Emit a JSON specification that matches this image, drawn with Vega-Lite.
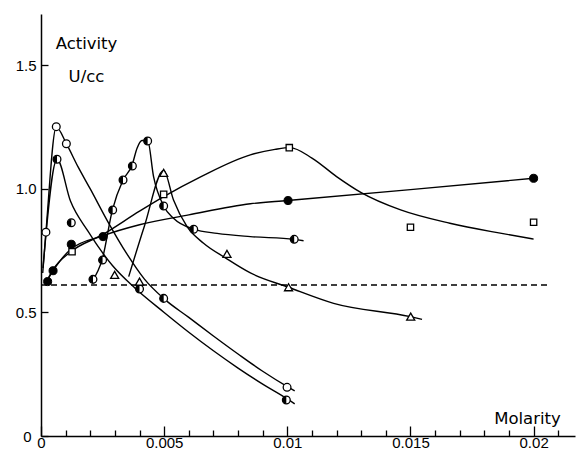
{
  "$schema": "https://vega.github.io/schema/vega-lite/v6.json",
  "width": 534,
  "height": 422,
  "autosize": {"type": "none"},
  "padding": {"left": 41, "top": 14, "right": 4, "bottom": 23},
  "background": "white",
  "config": {"view": {"stroke": null}},
  "datasets": {
    "curves": [
      {"curve": "open", "x": 0.00007, "y": 0.66},
      {"curve": "open", "x": 0.0002, "y": 0.825},
      {"curve": "open", "x": 0.00062, "y": 1.25},
      {"curve": "open", "x": 0.00103, "y": 1.183},
      {"curve": "open", "x": 0.0015, "y": 1.09},
      {"curve": "open", "x": 0.002, "y": 1.0},
      {"curve": "open", "x": 0.0027, "y": 0.87},
      {"curve": "open", "x": 0.0035, "y": 0.735},
      {"curve": "open", "x": 0.0042, "y": 0.635},
      {"curve": "open", "x": 0.005, "y": 0.555},
      {"curve": "open", "x": 0.006, "y": 0.48},
      {"curve": "open", "x": 0.007, "y": 0.405},
      {"curve": "open", "x": 0.008, "y": 0.332},
      {"curve": "open", "x": 0.009, "y": 0.262},
      {"curve": "open", "x": 0.01, "y": 0.2},
      {"curve": "open", "x": 0.0103, "y": 0.183},
      {"curve": "dark", "x": 0.00008, "y": 0.68},
      {"curve": "dark", "x": 0.00065, "y": 1.12},
      {"curve": "dark", "x": 0.0012, "y": 0.95},
      {"curve": "dark", "x": 0.0019, "y": 0.83},
      {"curve": "dark", "x": 0.0029, "y": 0.69},
      {"curve": "dark", "x": 0.0038, "y": 0.6},
      {"curve": "dark", "x": 0.005, "y": 0.5},
      {"curve": "dark", "x": 0.006, "y": 0.42},
      {"curve": "dark", "x": 0.007, "y": 0.345},
      {"curve": "dark", "x": 0.008, "y": 0.275},
      {"curve": "dark", "x": 0.009, "y": 0.21},
      {"curve": "dark", "x": 0.01, "y": 0.15},
      {"curve": "dark", "x": 0.0103, "y": 0.13},
      {"curve": "half", "x": 0.00207, "y": 0.625},
      {"curve": "half", "x": 0.0025, "y": 0.72},
      {"curve": "half", "x": 0.0029, "y": 0.915},
      {"curve": "half", "x": 0.00333, "y": 1.036},
      {"curve": "half", "x": 0.0037, "y": 1.097},
      {"curve": "half", "x": 0.0039, "y": 1.165},
      {"curve": "half", "x": 0.0041, "y": 1.196},
      {"curve": "half", "x": 0.00433, "y": 1.196},
      {"curve": "half", "x": 0.00457, "y": 1.05},
      {"curve": "half", "x": 0.00498, "y": 0.931},
      {"curve": "half", "x": 0.00538, "y": 0.881},
      {"curve": "half", "x": 0.0062, "y": 0.837},
      {"curve": "half", "x": 0.00715, "y": 0.82},
      {"curve": "half", "x": 0.0085, "y": 0.807},
      {"curve": "half", "x": 0.01028, "y": 0.796},
      {"curve": "half", "x": 0.01066, "y": 0.79},
      {"curve": "tri", "x": 0.00356, "y": 0.645},
      {"curve": "tri", "x": 0.0042, "y": 0.85},
      {"curve": "tri", "x": 0.00498, "y": 1.075},
      {"curve": "tri", "x": 0.00538, "y": 0.955},
      {"curve": "tri", "x": 0.00593, "y": 0.847},
      {"curve": "tri", "x": 0.0066, "y": 0.78},
      {"curve": "tri", "x": 0.0075, "y": 0.72},
      {"curve": "tri", "x": 0.0085, "y": 0.66},
      {"curve": "tri", "x": 0.01005, "y": 0.602},
      {"curve": "tri", "x": 0.01188, "y": 0.537},
      {"curve": "tri", "x": 0.015, "y": 0.483},
      {"curve": "tri", "x": 0.01547, "y": 0.472},
      {"curve": "square", "x": 0.0002, "y": 0.62},
      {"curve": "square", "x": 0.0005, "y": 0.675},
      {"curve": "square", "x": 0.0012, "y": 0.745},
      {"curve": "square", "x": 0.0025, "y": 0.815},
      {"curve": "square", "x": 0.004, "y": 0.91},
      {"curve": "square", "x": 0.005, "y": 0.97},
      {"curve": "square", "x": 0.0065, "y": 1.05},
      {"curve": "square", "x": 0.0085, "y": 1.138},
      {"curve": "square", "x": 0.0095, "y": 1.16},
      {"curve": "square", "x": 0.0101, "y": 1.167},
      {"curve": "square", "x": 0.011, "y": 1.125},
      {"curve": "square", "x": 0.012, "y": 1.05},
      {"curve": "square", "x": 0.013, "y": 0.985},
      {"curve": "square", "x": 0.0146, "y": 0.915},
      {"curve": "square", "x": 0.0166, "y": 0.861},
      {"curve": "square", "x": 0.0187, "y": 0.82},
      {"curve": "square", "x": 0.02, "y": 0.797},
      {"curve": "filled", "x": 0.0002, "y": 0.62},
      {"curve": "filled", "x": 0.0005, "y": 0.67},
      {"curve": "filled", "x": 0.0012, "y": 0.755},
      {"curve": "filled", "x": 0.0025, "y": 0.81},
      {"curve": "filled", "x": 0.004, "y": 0.855},
      {"curve": "filled", "x": 0.006, "y": 0.895},
      {"curve": "filled", "x": 0.0085, "y": 0.94},
      {"curve": "filled", "x": 0.01, "y": 0.953},
      {"curve": "filled", "x": 0.015, "y": 0.997},
      {"curve": "filled", "x": 0.02, "y": 1.043}
    ],
    "baseline": [
      {"x": 0, "y": 0.611},
      {"x": 0.02055, "y": 0.611}
    ],
    "points": [
      {"marker": "open", "x": 0.0002, "y": 0.825},
      {"marker": "open", "x": 0.00062, "y": 1.252},
      {"marker": "open", "x": 0.00103, "y": 1.183},
      {"marker": "open", "x": 0.00999, "y": 0.197},
      {"marker": "half", "x": 0.00065, "y": 1.12},
      {"marker": "half", "x": 0.00123, "y": 0.863},
      {"marker": "half", "x": 0.004, "y": 0.595},
      {"marker": "half", "x": 0.00498, "y": 0.557},
      {"marker": "half", "x": 0.00996, "y": 0.146},
      {"marker": "half", "x": 0.00211, "y": 0.634},
      {"marker": "half", "x": 0.0025, "y": 0.712},
      {"marker": "half", "x": 0.00291, "y": 0.915},
      {"marker": "half", "x": 0.00333, "y": 1.036},
      {"marker": "half", "x": 0.00371, "y": 1.093},
      {"marker": "half", "x": 0.00433, "y": 1.194},
      {"marker": "half", "x": 0.00498, "y": 0.931},
      {"marker": "half", "x": 0.0062, "y": 0.837},
      {"marker": "half", "x": 0.01028, "y": 0.796},
      {"marker": "tri", "x": 0.00299, "y": 0.652},
      {"marker": "tri", "x": 0.004, "y": 0.625},
      {"marker": "tri", "x": 0.00498, "y": 1.065},
      {"marker": "tri", "x": 0.00755, "y": 0.737},
      {"marker": "tri", "x": 0.01005, "y": 0.602},
      {"marker": "tri", "x": 0.01501, "y": 0.483},
      {"marker": "square", "x": 0.00126, "y": 0.746},
      {"marker": "square", "x": 0.00498, "y": 0.978},
      {"marker": "square", "x": 0.01008, "y": 1.167},
      {"marker": "square", "x": 0.015, "y": 0.845},
      {"marker": "square", "x": 0.02, "y": 0.865},
      {"marker": "filled", "x": 0.00027, "y": 0.625},
      {"marker": "filled", "x": 0.00049, "y": 0.669},
      {"marker": "filled", "x": 0.00123, "y": 0.776},
      {"marker": "filled", "x": 0.00252, "y": 0.807},
      {"marker": "filled", "x": 0.01003, "y": 0.953},
      {"marker": "filled", "x": 0.02, "y": 1.043}
    ]
  },
  "encoding": {
    "x": {
      "field": "x",
      "type": "quantitative",
      "scale": {"domain": [0, 0.02168], "nice": false, "zero": false},
      "axis": {
        "values": [0, 0.001, 0.002, 0.003, 0.004, 0.005, 0.006, 0.007, 0.008, 0.009, 0.01, 0.011, 0.012, 0.013, 0.014, 0.015, 0.016, 0.017, 0.018, 0.019, 0.02, 0.021],
        "title": "Molarity",
        "titleFont": "DejaVu Sans",
        "titleFontSize": 16.5,
        "titleFontWeight": "normal",
        "titleColor": "black",
        "titleAngle": 0,
        "titleAlign": "center",
        "titleBaseline": "alphabetic",
        "titleX": 486,
        "titleY": -13,
        "domainColor": "black",
        "domainWidth": 1.5,
        "tickColor": "black",
        "tickWidth": 1.3,
        "tickSize": {"condition": {"test": "round(datum.value*1000) % 5 === 0", "value": -10}, "value": -6},
        "labelExpr": "round(datum.value*1000) % 5 === 0 ? (datum.value === 0 ? '0' : format(datum.value, '~g')) : ''",
        "labelFont": "Liberation Sans",
        "labelFontSize": 15,
        "labelColor": "black",
        "labelBaseline": "top",
        "labelPadding": 9,
        "labelFlush": false,
        "labelOverlap": false,
        "grid": false
      }
    },
    "y": {
      "field": "y",
      "type": "quantitative",
      "scale": {"domain": [0, 1.708], "nice": false, "zero": false},
      "axis": {
        "values": [0, 0.5, 1, 1.5],
        "title": ["Activity", "U/cc"],
        "titleFont": "DejaVu Sans",
        "titleFontSize": 16.5,
        "titleFontWeight": "normal",
        "titleColor": "black",
        "titleAngle": 0,
        "titleAlign": "center",
        "titleBaseline": "alphabetic",
        "titleX": 45,
        "titleY": 34,
        "titleLineHeight": 33,
        "domainColor": "black",
        "domainWidth": 1.5,
        "tickColor": "black",
        "tickWidth": 1.3,
        "tickSize": -7,
        "labelExpr": "datum.value === 0 ? '0' : format(datum.value, '.1f')",
        "labelFont": "Liberation Sans",
        "labelFontSize": 15,
        "labelColor": "black",
        "labelPadding": {"condition": {"test": "datum.value === 0", "value": 17}, "value": 12},
        "labelFlush": false,
        "labelOverlap": false,
        "grid": false
      }
    }
  },
  "layer": [
    {
      "data": {"name": "baseline"},
      "mark": {"type": "line", "color": "black", "strokeWidth": 1.5, "strokeDash": [6, 4]}
    },
    {
      "data": {"name": "curves"},
      "mark": {"type": "line", "color": "black", "strokeWidth": 1.4, "interpolate": "monotone"},
      "encoding": {"detail": {"field": "curve"}}
    },
    {
      "data": {"name": "points"},
      "transform": [{"filter": "datum.marker === 'open' || datum.marker === 'half'"}],
      "mark": {"type": "point", "shape": "circle", "filled": true, "fill": "white", "stroke": "black", "strokeWidth": 1.3, "size": 60, "opacity": 1}
    },
    {
      "data": {"name": "points"},
      "transform": [{"filter": "datum.marker === 'half'"}],
      "mark": {"type": "point", "shape": "M0,-1A1,1,0,0,0,0,1Z", "filled": true, "fill": "black", "strokeWidth": 0, "size": 60, "opacity": 1}
    },
    {
      "data": {"name": "points"},
      "transform": [{"filter": "datum.marker === 'filled'"}],
      "mark": {"type": "point", "shape": "circle", "filled": true, "fill": "black", "stroke": "black", "strokeWidth": 1, "size": 65, "opacity": 1}
    },
    {
      "data": {"name": "points"},
      "transform": [{"filter": "datum.marker === 'tri'"}],
      "mark": {"type": "point", "shape": "triangle-up", "filled": true, "fill": "white", "stroke": "black", "strokeWidth": 1.3, "size": 65, "opacity": 1}
    },
    {
      "data": {"name": "points"},
      "transform": [{"filter": "datum.marker === 'square'"}],
      "mark": {"type": "point", "shape": "square", "filled": true, "fill": "white", "stroke": "black", "strokeWidth": 1.3, "size": 40, "opacity": 1}
    }
  ]
}
